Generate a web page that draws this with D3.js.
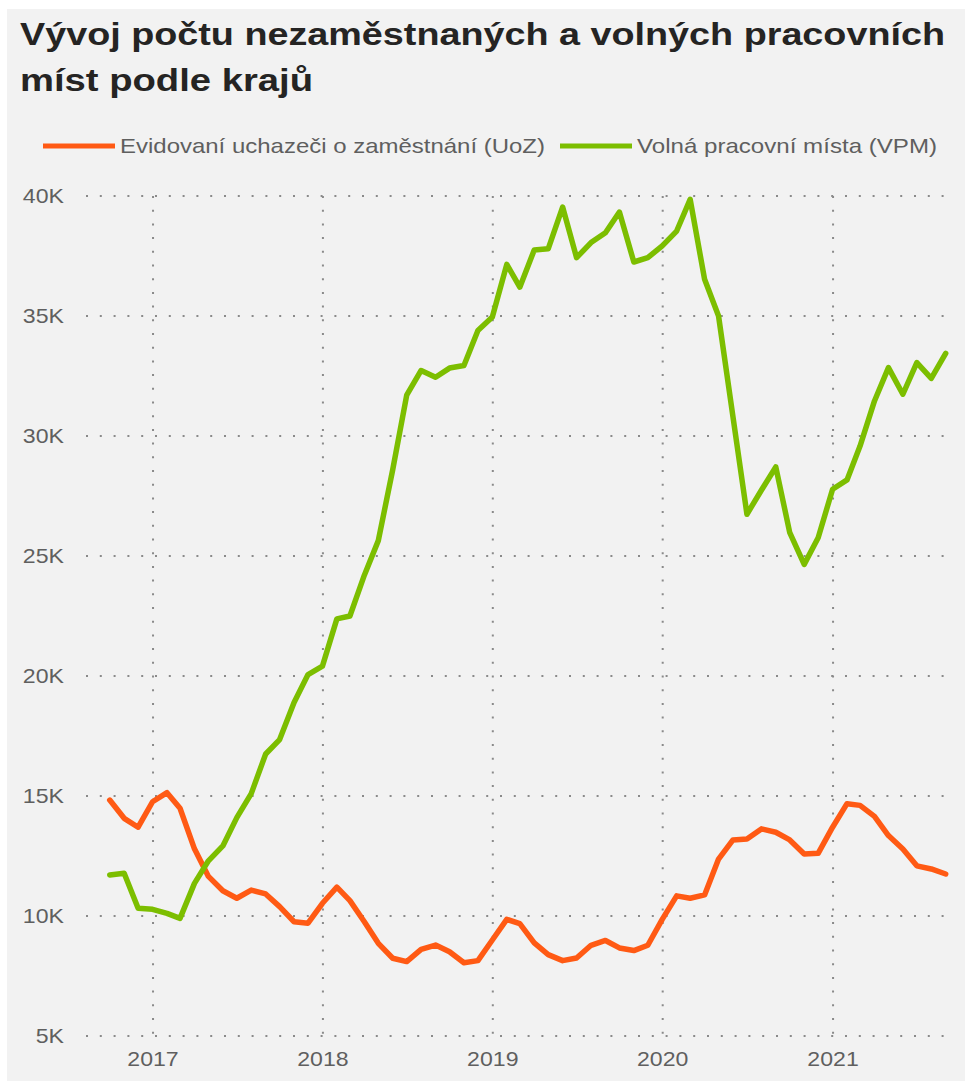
<!DOCTYPE html>
<html><head><meta charset="utf-8">
<script src="https://cdn.jsdelivr.net/npm/d3@7"></script>
<style>
html,body{margin:0;padding:0;background:#fff;}
svg{display:block;font-family:"Liberation Sans",Arial,sans-serif;}
</style>
</head><body>
<svg id="chart" width="965" height="1081"></svg>
<script>
// ---- data ----
const months = [
  "2016-09","2016-10","2016-11","2016-12",
  "2017-01","2017-02","2017-03","2017-04","2017-05","2017-06","2017-07","2017-08","2017-09","2017-10","2017-11","2017-12",
  "2018-01","2018-02","2018-03","2018-04","2018-05","2018-06","2018-07","2018-08","2018-09","2018-10","2018-11","2018-12",
  "2019-01","2019-02","2019-03","2019-04","2019-05","2019-06","2019-07","2019-08","2019-09","2019-10","2019-11","2019-12",
  "2020-01","2020-02","2020-03","2020-04","2020-05","2020-06","2020-07","2020-08","2020-09","2020-10","2020-11","2020-12",
  "2021-01","2021-02","2021-03","2021-04","2021-05","2021-06","2021-07","2021-08"
];
const uoz = [
  14830,14070,13700,14760,
  15140,14490,12800,11650,11050,10740,11080,10920,10390,9760,9700,10530,
  11200,10640,9760,8860,8240,8100,8610,8790,8510,8050,8140,9000,
  9860,9680,8880,8390,8140,8250,8780,8980,8670,8560,8780,9860,
  10840,10740,10880,12370,13170,13210,13630,13490,13170,12580,12610,13700,
  14680,14610,14150,13350,12790,12090,11960,11750
];
const vpm = [
  11710,11780,10320,10280,
  10110,9900,11360,12300,12920,14100,15100,16750,17350,18900,20060,20410,
  22380,22500,24200,25640,28600,31700,32730,32450,32830,32940,34400,34960,
  37150,36200,37750,37800,39540,37430,38060,38470,39330,37250,37430,37920,
  38540,39860,36530,35000,30800,26740,27740,28710,25970,24650,25760,27780,
  28170,29580,31460,32850,31740,33060,32400,33440
];
const yTicks = [5000,10000,15000,20000,25000,30000,35000,40000];
const yTickLabels = ["5K","10K","15K","20K","25K","30K","35K","40K"];
const xTickYears = [2017,2018,2019,2020,2021];
const titleLines = ["Vývoj počtu nezaměstnaných a volných pracovních","míst podle krajů"];
const seriesNames = ["Evidovaní uchazeči o zaměstnání (UoZ)","Volná pracovní místa (VPM)"];
const seriesColors = ["#FF5A14","#7CBE00"];

// ---- layout ----
const svg = d3.select("#chart");
const W = 965, H = 1081;
svg.append("rect").attr("x",7).attr("y",9).attr("width",W-7).attr("height",H-9).attr("fill","#f2f2f2");

const parseMonth = s => { const [y,m] = s.split("-").map(Number); return new Date(y, m, 0); };
const dates = months.map(parseMonth);

const x = d3.scaleTime()
  .domain([new Date(2016,7,10), new Date(2021,8,20)])
  .range([86, 955]);
const y = d3.scaleLinear().domain([5000,40000]).range([1036,196]);

const gridColor = "#8a8a8a";
// horizontal grid
svg.append("g").selectAll("line").data(yTicks).join("line")
  .attr("x1", x.range()[0]).attr("x2", x.range()[1])
  .attr("y1", d=>y(d)).attr("y2", d=>y(d))
  .attr("stroke", gridColor).attr("stroke-width", 2)
  .attr("stroke-dasharray","2 11.8");
// vertical grid
svg.append("g").selectAll("line").data(xTickYears).join("line")
  .attr("x1", d=>x(new Date(d,0,1))).attr("x2", d=>x(new Date(d,0,1)))
  .attr("y1", y(40000)).attr("y2", y(5000))
  .attr("stroke", gridColor).attr("stroke-width", 2)
  .attr("stroke-dasharray","2 11.7");

const stretch = (sel, f) => sel.each(function(){
  const w = this.getComputedTextLength();
  d3.select(this).attr("textLength", w*f).attr("lengthAdjust","spacingAndGlyphs");
});

// y labels
svg.append("g").selectAll("text").data(yTicks).join("text")
  .attr("x", 64).attr("y", d=>y(d)).attr("dy","0.35em")
  .attr("text-anchor","end").attr("font-size",21).attr("fill","#5f5f5f")
  .text((d,i)=>yTickLabels[i]).call(stretch, 1.1);
// x labels
svg.append("g").selectAll("text").data(xTickYears).join("text")
  .attr("x", d=>x(new Date(d,0,1))).attr("y", 1066)
  .attr("text-anchor","middle").attr("font-size",21).attr("fill","#5f5f5f")
  .text(d=>d).call(stretch, 1.1);

// lines
const line = d3.line().x((d,i)=>x(dates[i])).y(d=>y(d));
[uoz, vpm].forEach((s,k)=>{
  svg.append("path").datum(s).attr("d", line)
    .attr("fill","none").attr("stroke", seriesColors[k]).attr("stroke-width",5.5)
    .attr("stroke-linejoin","round").attr("stroke-linecap","round");
});

// title
const titleX = 20, titleY = [45, 91], titleW = [925, 293];
svg.append("g").selectAll("text").data(titleLines).join("text")
  .attr("x", titleX).attr("y", (d,i)=>titleY[i])
  .attr("font-size", 32).attr("font-weight","bold").attr("fill","#252423")
  .attr("textLength",(d,i)=>titleW[i]).attr("lengthAdjust","spacingAndGlyphs")
  .text(d=>d);

// legend
const legX = [43, 560], legW = [425, 300], legY = 146;
const lg = svg.append("g").selectAll("g").data(seriesNames).join("g");
lg.append("line").attr("x1",(d,i)=>legX[i]).attr("x2",(d,i)=>legX[i]+72)
  .attr("y1",legY).attr("y2",legY).attr("stroke",(d,i)=>seriesColors[i]).attr("stroke-width",5);
lg.append("text").attr("x",(d,i)=>legX[i]+77).attr("y",legY).attr("dy","0.35em")
  .attr("font-size",21).attr("fill","#5f5f5f")
  .attr("textLength",(d,i)=>legW[i]).attr("lengthAdjust","spacingAndGlyphs")
  .text(d=>d);
</script>
</body></html>
